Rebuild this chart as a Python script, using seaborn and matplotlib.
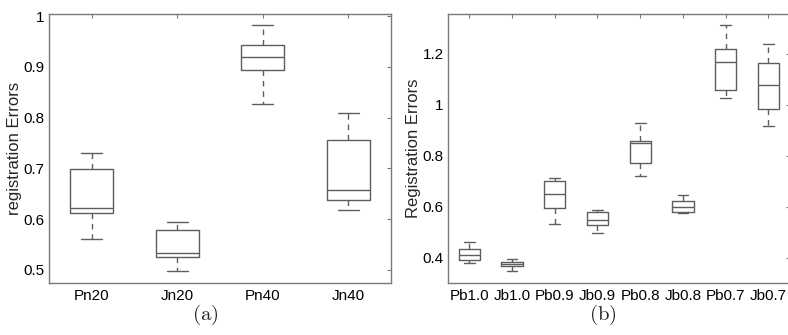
import numpy as np
import pandas as pd
import matplotlib
matplotlib.use("Agg")
import matplotlib.pyplot as plt
import seaborn as sns

# ---- data: five-number summaries (min, q1, median, q3, max)
cats_a = ["Pn20", "Jn20", "Pn40", "Jn40"]
pn20 = [0.560, 0.612, 0.621, 0.698, 0.730]
jn20 = [0.498, 0.526, 0.533, 0.579, 0.595]
pn40 = [0.827, 0.893, 0.920, 0.942, 0.982]
jn40 = [0.617, 0.637, 0.658, 0.755, 0.809]
vals_a = [pn20, jn20, pn40, jn40]

cats_b = ["Pb1.0", "Jb1.0", "Pb0.9", "Jb0.9", "Pb0.8", "Jb0.8", "Pb0.7", "Jb0.7"]
pb10 = [0.380, 0.392, 0.409, 0.434, 0.463]
jb10 = [0.349, 0.366, 0.375, 0.384, 0.394]
pb09 = [0.532, 0.595, 0.649, 0.701, 0.714]
jb09 = [0.498, 0.527, 0.547, 0.578, 0.587]
pb08 = [0.719, 0.771, 0.849, 0.859, 0.929]
jb08 = [0.574, 0.580, 0.600, 0.621, 0.647]
pb07 = [1.025, 1.059, 1.166, 1.218, 1.311]
jb07 = [0.915, 0.982, 1.076, 1.162, 1.238]
vals_b = [pb10, jb10, pb09, jb09, pb08, jb08, pb07, jb07]

yticks_a = [0.5, 0.6, 0.7, 0.8, 0.9, 1.0]
yticklabels_a = ["0.5", "0.6", "0.7", "0.8", "0.9", "1"]
yticks_b = [0.4, 0.6, 0.8, 1.0, 1.2]
yticklabels_b = ["0.4", "0.6", "0.8", "1", "1.2"]

def to_df(cats, vals):
    rows = []
    for c, v in zip(cats, vals):
        for x in v:
            rows.append((c, x))
    return pd.DataFrame(rows, columns=["cat", "val"])

sns.set_style("white")
plt.rcParams["font.family"] = ["Liberation Sans", "DejaVu Sans"]
plt.rcParams["mathtext.fontset"] = "cm"

W, H = 788, 335
fig = plt.figure(figsize=(W / 100, H / 100), dpi=100)

def px_axes(l, r, t, b):
    return fig.add_axes([l / W, 1 - b / H, (r - l) / W, (b - t) / H])

ax_a = px_axes(49, 391, 14, 283)
ax_b = px_axes(448, 789.7, 14, 283)

box_col = "#5e5e5e"
spine_col = "#7a7a7a"

def draw(ax, cats, vals, ylim, yt, ytl, ylabel):
    df = to_df(cats, vals)
    sns.boxplot(data=df, x="cat", y="val", order=cats, ax=ax, whis=(0, 100),
                width=0.5, fill=False, color=box_col, linewidth=1.0,
                whiskerprops=dict(linestyle=(0, (4, 3.5))),
                medianprops=dict(color=box_col, linewidth=1.0))
    ax.set_xlim(-0.5, len(cats) - 0.5)
    ax.set_ylim(*ylim)
    ax.set_yticks(yt)
    ax.set_yticklabels(ytl)
    ax.set_xlabel("")
    ax.set_ylabel(ylabel, fontsize=12, labelpad=1)
    ax.tick_params(direction="in", top=True, right=True, length=3,
                   width=0.8, color=spine_col, labelsize=11, pad=3,
                   labelcolor="black")
    ax.tick_params(axis="x", pad=4)
    for s in ax.spines.values():
        s.set_visible(True)
        s.set_color(spine_col)
        s.set_linewidth(1.0)

draw(ax_a, cats_a, vals_a, (0.474, 1.004), yticks_a, yticklabels_a,
     "registration Errors")
draw(ax_b, cats_b, vals_b, (0.3008, 1.3557), yticks_b, yticklabels_b,
     "Registration Errors")

fig.text(205 / W, 1 - 315 / H, r"$\mathrm{(a)}$", ha="center", va="center",
         fontsize=15)
fig.text(603 / W, 1 - 315 / H, r"$\mathrm{(b)}$", ha="center", va="center",
         fontsize=15)

fig.savefig("out.png", dpi=100)
